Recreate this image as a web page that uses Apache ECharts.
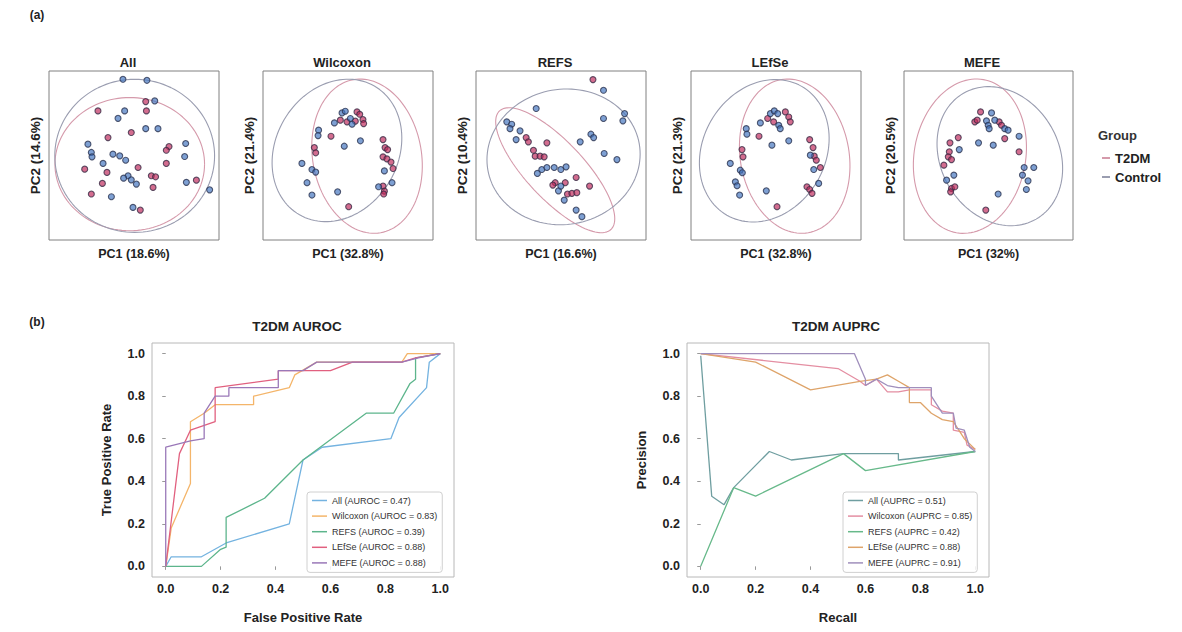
<!DOCTYPE html>
<html><head><meta charset="utf-8">
<script src="https://cdn.jsdelivr.net/npm/echarts@6/dist/echarts.min.js"></script>
<style>html,body{margin:0;padding:0;background:#fff}#c{width:1182px;height:632px}</style>
</head><body><div id="c"></div>
<script>
const FONT = "'Liberation Sans', Arial, sans-serif";

// ---------- (a) PCA panels ----------
const panelTitles = ['All', 'Wilcoxon', 'REFS', 'LEfSe', 'MEFE'];
const pc1Labels = ['PC1 (18.6%)', 'PC1 (32.8%)', 'PC1 (16.6%)', 'PC1 (32.8%)', 'PC1 (32%)'];
const pc2Labels = ['PC2 (14.6%)', 'PC2 (21.4%)', 'PC2 (10.4%)', 'PC2 (21.3%)', 'PC2 (20.5%)'];
const groupNames = ['T2DM', 'Control'];

const allT2DM = [[0.569,0.819],[0.288,0.764],[0.573,0.764],[0.484,0.636],[0.347,0.606],[0.706,0.553],[0.690,0.531],[0.690,0.453],[0.341,0.400],[0.210,0.419],[0.524,0.429],[0.602,0.380],[0.627,0.374],[0.314,0.335],[0.612,0.311],[0.867,0.354],[0.249,0.272],[0.537,0.177]];
const allControl = [[0.435,0.951],[0.576,0.945],[0.622,0.823],[0.445,0.764],[0.406,0.720],[0.569,0.659],[0.641,0.659],[0.229,0.567],[0.249,0.518],[0.253,0.492],[0.376,0.508],[0.416,0.498],[0.451,0.472],[0.804,0.571],[0.798,0.494],[0.318,0.453],[0.465,0.380],[0.439,0.366],[0.484,0.356],[0.514,0.331],[0.808,0.341],[0.945,0.297],[0.367,0.256],[0.494,0.193]];

const wilT2DM = [[0.553,0.758],[0.569,0.744],[0.455,0.709],[0.543,0.703],[0.588,0.713],[0.592,0.689],[0.494,0.699],[0.400,0.614],[0.706,0.594],[0.718,0.547],[0.733,0.535],[0.302,0.547],[0.310,0.516],[0.706,0.492],[0.729,0.480],[0.753,0.461],[0.765,0.423],[0.706,0.319],[0.714,0.289],[0.710,0.272],[0.504,0.197]];
const wilControl = [[0.465,0.752],[0.484,0.762],[0.420,0.693],[0.514,0.719],[0.524,0.685],[0.327,0.650],[0.324,0.618],[0.478,0.555],[0.573,0.587],[0.229,0.453],[0.288,0.417],[0.310,0.402],[0.714,0.409],[0.759,0.339],[0.259,0.339],[0.680,0.315],[0.288,0.266],[0.439,0.285]];

const refsT2DM = [[0.688,0.949],[0.295,0.606],[0.308,0.581],[0.417,0.575],[0.338,0.531],[0.348,0.496],[0.377,0.496],[0.401,0.492],[0.466,0.339],[0.452,0.325],[0.525,0.339],[0.589,0.370],[0.668,0.319],[0.538,0.272],[0.564,0.276],[0.593,0.280]];
const refsControl = [[0.750,0.886],[0.354,0.778],[0.874,0.748],[0.864,0.705],[0.750,0.719],[0.181,0.699],[0.210,0.685],[0.200,0.659],[0.259,0.646],[0.236,0.594],[0.676,0.626],[0.692,0.606],[0.613,0.581],[0.754,0.512],[0.829,0.476],[0.361,0.394],[0.387,0.417],[0.417,0.429],[0.460,0.429],[0.499,0.417],[0.530,0.433],[0.485,0.291],[0.499,0.319],[0.519,0.236],[0.589,0.177],[0.623,0.138]];

const lefT2DM = [[0.555,0.758],[0.575,0.728],[0.584,0.699],[0.451,0.719],[0.486,0.699],[0.400,0.614],[0.698,0.594],[0.718,0.547],[0.725,0.496],[0.737,0.472],[0.761,0.429],[0.300,0.535],[0.306,0.492],[0.682,0.315],[0.698,0.299],[0.712,0.276],[0.506,0.197]];
const lefControl = [[0.467,0.748],[0.490,0.764],[0.510,0.748],[0.408,0.693],[0.516,0.679],[0.525,0.659],[0.325,0.659],[0.329,0.626],[0.476,0.561],[0.575,0.587],[0.702,0.502],[0.722,0.417],[0.751,0.335],[0.231,0.453],[0.290,0.413],[0.302,0.398],[0.261,0.344],[0.271,0.321],[0.286,0.266],[0.443,0.291]];

const mefeT2DM = [[0.453,0.758],[0.419,0.699],[0.433,0.709],[0.563,0.699],[0.577,0.679],[0.321,0.606],[0.272,0.575],[0.268,0.522],[0.262,0.492],[0.281,0.476],[0.236,0.443],[0.596,0.600],[0.681,0.522],[0.281,0.305],[0.301,0.315],[0.276,0.285],[0.484,0.177]];
const mefeControl = [[0.518,0.752],[0.488,0.705],[0.498,0.679],[0.504,0.659],[0.537,0.709],[0.596,0.659],[0.616,0.650],[0.327,0.535],[0.441,0.575],[0.528,0.561],[0.681,0.614],[0.295,0.384],[0.252,0.354],[0.711,0.429],[0.768,0.429],[0.701,0.384],[0.734,0.350],[0.724,0.299],[0.557,0.272]];

const panelT2DM = [allT2DM, wilT2DM, refsT2DM, lefT2DM, mefeT2DM];
const panelControl = [allControl, wilControl, refsControl, lefControl, mefeControl];

// ellipse parameters: [centerX, centerY, semiAxisA, semiAxisB, rotationDeg]
const ellipseT2DM = [[0.475,0.449,0.44,0.394,0],[0.612,0.496,0.46,0.32,100],[0.466,0.413,0.48,0.17,-47],[0.61,0.496,0.46,0.32,100],[0.39,0.496,0.46,0.33,80]];
const ellipseControl = [[0.504,0.498,0.47,0.453,0],[0.435,0.53,0.44,0.36,60],[0.515,0.492,0.452,0.40,10],[0.431,0.528,0.44,0.36,60],[0.567,0.496,0.43,0.35,120]];

// ---------- (b) ROC / PR ----------
const tickValues = [0, 0.2, 0.4, 0.6, 0.8, 1.0];
const rocNames = ['All (AUROC = 0.47)', 'Wilcoxon (AUROC = 0.83)', 'REFS (AUROC = 0.39)', 'LEfSe (AUROC = 0.88)', 'MEFE (AUROC = 0.88)'];
const prcNames = ['All (AUPRC = 0.51)', 'Wilcoxon (AUPRC = 0.85)', 'REFS (AUPRC = 0.42)', 'LEfSe (AUPRC = 0.88)', 'MEFE (AUPRC = 0.91)'];

const rocAll = [[0,0],[0.02,0.045],[0.13,0.045],[0.22,0.11],[0.45,0.20],[0.50,0.50],[0.57,0.56],[0.82,0.60],[0.85,0.70],[0.95,0.84],[0.96,0.96],[1,1]];
const rocWilcoxon = [[0,0],[0.02,0.18],[0.09,0.39],[0.09,0.68],[0.14,0.72],[0.18,0.76],[0.32,0.76],[0.32,0.80],[0.45,0.84],[0.47,0.90],[0.55,0.96],[0.86,0.96],[0.88,1.0],[1,1]];
const rocREFS = [[0,0],[0.13,0],[0.20,0.08],[0.22,0.09],[0.22,0.23],[0.36,0.32],[0.50,0.50],[0.73,0.72],[0.83,0.72],[0.89,0.86],[0.91,0.88],[0.91,0.98],[1,1]];
const rocLEfSe = [[0,0],[0.05,0.53],[0.09,0.64],[0.18,0.68],[0.18,0.84],[0.41,0.88],[0.41,0.92],[0.60,0.92],[0.68,0.96],[0.86,0.96],[0.91,0.98],[1,1]];
const rocMEFE = [[0,0],[0,0.56],[0.09,0.59],[0.14,0.60],[0.14,0.72],[0.18,0.80],[0.23,0.80],[0.23,0.84],[0.41,0.84],[0.41,0.92],[0.50,0.92],[0.55,0.96],[0.86,0.96],[0.92,0.98],[1,1]];

const prcAll = [[0,0.99],[0.04,0.33],[0.085,0.29],[0.12,0.37],[0.25,0.54],[0.33,0.50],[0.52,0.53],[0.72,0.53],[0.72,0.50],[1,0.54]];
const prcWilcoxon = [[0,1],[0.50,0.93],[0.58,0.87],[0.60,0.85],[0.64,0.88],[0.68,0.82],[0.72,0.82],[0.76,0.83],[0.84,0.83],[0.84,0.76],[0.88,0.73],[0.92,0.72],[0.92,0.64],[0.96,0.63],[0.97,0.57],[1,0.55]];
const prcREFS = [[0,0],[0.12,0.37],[0.20,0.33],[0.52,0.53],[0.60,0.45],[1,0.54]];
const prcLEfSe = [[0,1],[0.20,0.96],[0.40,0.83],[0.58,0.87],[0.64,0.88],[0.68,0.90],[0.72,0.87],[0.76,0.84],[0.76,0.77],[0.80,0.77],[0.84,0.72],[0.88,0.69],[0.92,0.68],[0.96,0.60],[1,0.55]];
const prcMEFE = [[0,1],[0.56,1],[0.60,0.88],[0.60,0.85],[0.64,0.88],[0.68,0.85],[0.72,0.84],[0.84,0.84],[0.84,0.80],[0.86,0.76],[0.88,0.72],[0.92,0.72],[0.93,0.65],[0.96,0.64],[0.98,0.56],[1,0.54]];

const rocSeriesData = [rocAll, rocWilcoxon, rocREFS, rocLEfSe, rocMEFE];
const prcSeriesData = [prcAll, prcWilcoxon, prcREFS, prcLEfSe, prcMEFE];

// ---------- styling ----------
const rocColors = ['#74b3e0', '#f4b56a', '#5db58c', '#e1607f', '#9a78b8'];
const prcColors = ['#6f9ea0', '#e48ea2', '#67b98a', '#dea46a', '#a08fbc'];
const pointColor = { T2DM: 'rgba(190,40,90,0.85)', Control: 'rgba(65,115,190,0.85)' };
const pointBorder = { T2DM: '#3a2a45', Control: '#2a3350' };
const ellipseColor = { T2DM: '#d59aab', Control: '#9a9db0' };

const scatterGrids = [
  { left: 49, top: 71, width: 170, height: 169 },
  { left: 263, top: 71, width: 170, height: 169 },
  { left: 476, top: 71, width: 170, height: 169 },
  { left: 691, top: 71, width: 170, height: 169 },
  { left: 904, top: 71, width: 169, height: 169 }
];
const titleX = [128, 342, 555, 770, 982];

function ellipsePath(p) {
  const [cx, cy, a, b, deg] = p;
  const t = deg * Math.PI / 180, pts = [];
  for (let k = 0; k <= 120; k++) {
    const s = 2 * Math.PI * k / 120;
    const x = a * Math.cos(s), y = b * Math.sin(s);
    pts.push([cx + x * Math.cos(t) - y * Math.sin(t), cy + x * Math.sin(t) + y * Math.cos(t)]);
  }
  return pts;
}

const grid = [], xAxis = [], yAxis = [], series = [], graphic = [];
const boldName = (size) => ({ fontFamily: FONT, fontWeight: 'bold', fontSize: size, color: '#222' });

scatterGrids.forEach((g, i) => {
  grid.push(Object.assign({ show: true, borderColor: '#808080', borderWidth: 1, backgroundColor: 'transparent' }, g));
  xAxis.push({ gridIndex: i, type: 'value', min: 0, max: 1, axisLine: { show: false }, axisTick: { show: false },
    axisLabel: { show: false }, splitLine: { show: false },
    name: pc1Labels[i], nameLocation: 'middle', nameGap: 7, nameTextStyle: boldName(12.5) });
  yAxis.push({ gridIndex: i, type: 'value', min: 0, max: 1, axisLine: { show: false }, axisTick: { show: false },
    axisLabel: { show: false }, splitLine: { show: false },
    name: pc2Labels[i], nameLocation: 'middle', nameGap: 7, nameTextStyle: boldName(13.5) });
  series.push({ name: 'T2DM', type: 'line', xAxisIndex: i, yAxisIndex: i, data: ellipsePath(ellipseT2DM[i]),
    symbol: 'none', silent: true, z: 1, lineStyle: { color: ellipseColor.T2DM, width: 1.1 }, itemStyle: { color: ellipseColor.T2DM } });
  series.push({ name: 'Control', type: 'line', xAxisIndex: i, yAxisIndex: i, data: ellipsePath(ellipseControl[i]),
    symbol: 'none', silent: true, z: 1, lineStyle: { color: ellipseColor.Control, width: 1.1 }, itemStyle: { color: ellipseColor.Control } });
  series.push({ name: 'T2DM', type: 'scatter', xAxisIndex: i, yAxisIndex: i, data: panelT2DM[i], symbolSize: 6, z: 3,
    itemStyle: { color: pointColor.T2DM, borderColor: pointBorder.T2DM, borderWidth: 1.1 } });
  series.push({ name: 'Control', type: 'scatter', xAxisIndex: i, yAxisIndex: i, data: panelControl[i], symbolSize: 6, z: 3,
    itemStyle: { color: pointColor.Control, borderColor: pointBorder.Control, borderWidth: 1.1 } });
  graphic.push({ type: 'text', x: titleX[i], y: 62, style: { text: panelTitles[i], font: 'bold 13px ' + FONT, fill: '#222',
    align: 'center', verticalAlign: 'middle', textAlign: 'center', textVerticalAlign: 'middle' } });
});

const lineGrids = [
  { left: 152, top: 343, width: 302, height: 234 },
  { left: 687, top: 343, width: 302, height: 234 }
];
const lineXNames = ['False Positive Rate', 'Recall'];
const lineYNames = ['True Positive Rate', 'Precision'];
lineGrids.forEach((g, j) => {
  const gi = 5 + j;
  grid.push(Object.assign({ show: true, borderColor: '#b8b8b8', borderWidth: 1, backgroundColor: 'transparent' }, g));
  const common = {
    gridIndex: gi, type: 'value', min: -0.05, max: 1.05,
    axisLine: { show: false }, splitLine: { show: false },
    axisTick: { show: true, length: 3.5, lineStyle: { color: '#999' }, customValues: tickValues },
    axisLabel: { customValues: tickValues, formatter: v => v.toFixed(1), fontFamily: FONT, fontWeight: 'bold', fontSize: 12.5, color: '#222' }
  };
  xAxis.push(Object.assign({}, common, { name: lineXNames[j], nameLocation: 'middle', nameGap: 34,
    nameTextStyle: boldName(13), axisLabel: Object.assign({}, common.axisLabel, { margin: 5 }) }));
  yAxis.push(Object.assign({}, common, { name: lineYNames[j], nameLocation: 'middle', nameGap: 39,
    nameTextStyle: boldName(13), axisLabel: Object.assign({}, common.axisLabel, { margin: 7 }) }));
});

rocSeriesData.forEach((d, k) => {
  series.push({ name: rocNames[k], type: 'line', xAxisIndex: 5, yAxisIndex: 5, data: d, symbol: 'none', z: 2 + k,
    lineStyle: { color: rocColors[k], width: 1.3 }, itemStyle: { color: rocColors[k] } });
});
prcSeriesData.forEach((d, k) => {
  series.push({ name: prcNames[k], type: 'line', xAxisIndex: 6, yAxisIndex: 6, data: d, symbol: 'none', z: 2 + k,
    lineStyle: { color: prcColors[k], width: 1.3 }, itemStyle: { color: prcColors[k] } });
});

graphic.push({ type: 'text', x: 37, y: 15, style: { text: '(a)', font: 'bold 12px ' + FONT, fill: '#222', align: 'center', verticalAlign: 'middle', textAlign: 'center', textVerticalAlign: 'middle' } });
graphic.push({ type: 'text', x: 37, y: 322, style: { text: '(b)', font: 'bold 12px ' + FONT, fill: '#222', align: 'center', verticalAlign: 'middle', textAlign: 'center', textVerticalAlign: 'middle' } });
graphic.push({ type: 'text', x: 297, y: 326, style: { text: 'T2DM AUROC', font: 'bold 13.5px ' + FONT, fill: '#222', align: 'center', verticalAlign: 'middle', textAlign: 'center', textVerticalAlign: 'middle' } });
graphic.push({ type: 'text', x: 836, y: 326, style: { text: 'T2DM AUPRC', font: 'bold 13.5px ' + FONT, fill: '#222', align: 'center', verticalAlign: 'middle', textAlign: 'center', textVerticalAlign: 'middle' } });
graphic.push({ type: 'text', x: 1098, y: 135, style: { text: 'Group', font: 'bold 13px ' + FONT, fill: '#333', align: 'left', verticalAlign: 'middle', textAlign: 'left', textVerticalAlign: 'middle' } });

const legendBox = { orient: 'vertical', padding: [3, 5, 4, 5], itemGap: 4.6, itemWidth: 15, itemHeight: 1.5, icon: 'rect',
  borderColor: '#d0d0d0', borderWidth: 1, borderRadius: 3, backgroundColor: 'rgba(255,255,255,0.85)',
  selectedMode: false, textStyle: { fontFamily: FONT, fontSize: 9, color: '#333', lineHeight: 11 } };

const option = {
  animation: false,
  backgroundColor: '#fff',
  grid, xAxis, yAxis, series, graphic,
  legend: [
    { data: groupNames.map(n => ({ name: n, itemStyle: { color: ellipseColor[n] } })), orient: 'vertical', left: 1102, top: 150.5,
      padding: 0, itemGap: 4, itemWidth: 8, itemHeight: 2, icon: 'rect', selectedMode: false,
      textStyle: { fontFamily: FONT, fontWeight: 'bold', fontSize: 13, color: '#222', lineHeight: 15 } },
    Object.assign({}, legendBox, { data: rocNames, left: 307, top: 492 }),
    Object.assign({}, legendBox, { data: prcNames, left: 843, top: 492 })
  ]
};

const chart = echarts.init(document.getElementById('c'), null, { renderer: 'svg', width: 1182, height: 632 });
chart.setOption(option);
</script></body></html>
